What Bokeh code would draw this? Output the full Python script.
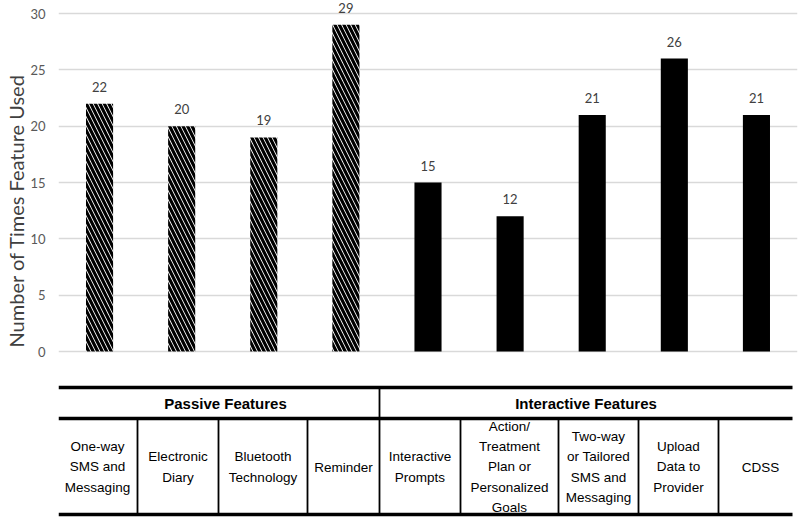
from bokeh.plotting import figure
from bokeh.models import (ColumnDataSource, FactorRange, Range1d, FixedTicker,
                          LabelSet, Title)
from bokeh.layouts import column
from bokeh.core.properties import value
from bokeh.embed import file_html
from bokeh.resources import INLINE

# ---------------- data ----------------
passive_features = ["One-way SMS and Messaging", "Electronic Diary",
                    "Bluetooth Technology", "Reminder"]
interactive_features = ["Interactive Prompts",
                        "Action/ Treatment Plan or Personalized Goals",
                        "Two-way or Tailored SMS and Messaging",
                        "Upload Data to Provider", "CDSS"]
passive_counts = [22, 20, 19, 29]
interactive_counts = [15, 12, 21, 26, 21]

passive_cell_labels = ["One-way\nSMS and\nMessaging", "Electronic\nDiary",
                       "Bluetooth\nTechnology", "Reminder"]
interactive_cell_labels = ["Interactive\nPrompts",
                           "Action/\nTreatment\nPlan or\nPersonalized\nGoals",
                           "Two-way\nor Tailored\nSMS and\nMessaging",
                           "Upload\nData to\nProvider", "CDSS"]
group_titles = ["Passive Features", "Interactive Features"]
y_ticks = [0, 5, 10, 15, 20, 25, 30]
y_title = "Number  of Times Feature Used"

# ---------------- layout constants (page pixels) ----------------
W = 799
CHART_H = 384
TABLE_H = 134
LEFT = 58
RIGHT_PAD = 2
Y30_PX, Y0_PX = 13, 351
PX_PER_UNIT = (Y0_PX - Y30_PX) / 30.0

all_features = passive_features + interactive_features

# ---------------- chart ----------------
p = figure(width=W, height=CHART_H, output_backend="svg", toolbar_location=None,
           x_range=FactorRange(factors=all_features),
           y_range=Range1d(-(CHART_H - Y0_PX) / PX_PER_UNIT,
                           30 + Y30_PX / PX_PER_UNIT),
           x_axis_location=None,
           min_border_left=LEFT, min_border_right=RIGHT_PAD, min_border_top=0,
           min_border_bottom=0)
p.outline_line_color = None
p.background_fill_color = "white"
p.border_fill_color = "white"
p.xgrid.visible = False
p.ygrid.ticker = FixedTicker(ticks=y_ticks)
p.ygrid.grid_line_color = "#d9d9d9"
p.ygrid.grid_line_width = 1.4
yax = p.yaxis[0]
yax.ticker = FixedTicker(ticks=y_ticks)
yax.axis_line_color = None
yax.major_tick_line_color = None
yax.minor_tick_line_color = None
yax.major_label_text_font = "Lato"
yax.major_label_text_font_size = "13px"
yax.major_label_text_color = "#595959"
yax.major_label_standoff = 7

p.add_layout(Title(text=y_title, align="left", offset=CHART_H - 347, standoff=0,
                   text_font="Lato", text_font_style="normal",
                   text_font_size="20px", text_color="#404040"), "left")

src_p = ColumnDataSource(dict(x=passive_features, top=passive_counts,
                              lab=[str(v) for v in passive_counts]))
src_i = ColumnDataSource(dict(x=interactive_features, top=interactive_counts,
                              lab=[str(v) for v in interactive_counts]))

p.vbar(x="x", top="top", width=0.33, bottom=0, source=src_p,
       fill_color="white", line_color=None, hatch_pattern="\\",
       hatch_color="black", hatch_scale=9, hatch_weight=3.2)
p.vbar(x="x", top="top", width=0.33, bottom=0, source=src_i,
       fill_color="black", line_color=None)

for s in (src_p, src_i):
    p.add_layout(LabelSet(x="x", y="top", text="lab", source=s,
                          y_offset=17, text_align="center",
                          text_baseline="middle", text_font=value("Lato"),
                          text_font_size="13px", text_color="#404040"))

# ---------------- table ----------------
t = figure(width=W, height=TABLE_H, output_backend="svg", toolbar_location=None,
           x_range=Range1d(LEFT, W - RIGHT_PAD), y_range=Range1d(TABLE_H, 0),
           x_axis_location=None, y_axis_location=None,
           min_border_left=LEFT, min_border_right=RIGHT_PAD, min_border_top=0,
           min_border_bottom=0)
t.outline_line_color = None
t.grid.visible = False
t.background_fill_color = "white"
t.border_fill_color = "white"

TOP, MID, BOT = 3, 34, 130
T_LEFT, T_RIGHT = LEFT, 792
t.segment(x0=[T_LEFT] * 3, x1=[T_RIGHT] * 3, y0=[TOP, MID, BOT],
          y1=[TOP, MID, BOT], line_color="black", line_width=3.6)
t.segment(x0=[379], x1=[379], y0=[TOP], y1=[BOT], line_color="black",
          line_width=1.8)
dividers = [137, 218, 307, 460, 558, 638, 718]
t.segment(x0=dividers, x1=dividers, y0=[MID] * len(dividers),
          y1=[BOT] * len(dividers), line_color="black", line_width=1.8)

t.text(x=[225, 585.5], y=[18.5, 18.5], text=group_titles,
       text_font=value("Liberation Sans"), text_font_style="bold",
       text_font_size="15px", text_align="center", text_baseline="middle",
       text_color="black")

cell_x = [97, 177.5, 262.5, 343, 419.5, 509, 598, 678, 760]
cell_labels = passive_cell_labels + interactive_cell_labels
t.text(x=cell_x, y=[82.5] * len(cell_x), text=cell_labels,
       text_font=value("Liberation Sans"), text_font_size="13.5px",
       text_align="center", text_baseline="middle", text_line_height=1.36,
       text_color="black")

layout = column(p, t, spacing=0)
open("out.html", "w").write(file_html(layout, INLINE))
